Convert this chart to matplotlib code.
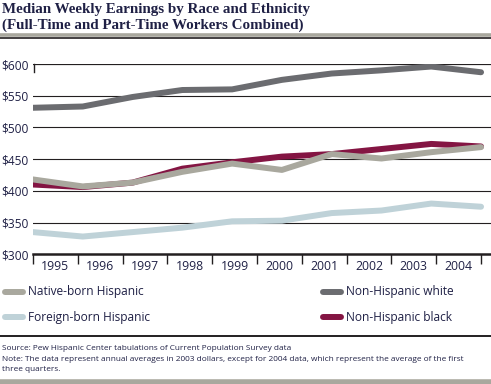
import matplotlib
matplotlib.use("Agg")
import matplotlib.pyplot as plt
from matplotlib.lines import Line2D

years = ["1995", "1996", "1997", "1998", "1999", "2000", "2001", "2002", "2003", "2004"]
native_born = [418, 407, 413, 430, 443, 433, 458, 451, 461, 469]
foreign_born = [335, 328, 335, 342, 352, 353, 365, 369, 380, 375]
nh_white = [531, 533, 548, 559, 560, 575, 585, 590, 596, 587]
nh_black = [410, 406, 413, 435, 445, 454, 458, 466, 474, 470]
y_ticks = [300, 350, 400, 450, 500, 550, 600]
y_labels = ["$300", "$350", "$400", "$450", "$500", "$550", "$600"]

C_NATIVE = "#a9a89e"
C_FOREIGN = "#bfd2d8"
C_WHITE = "#6b6c70"
C_BLACK = "#841543"
TXT = "#1f2045"
LINE = "#231f20"

W, H = 491, 384
fig = plt.figure(figsize=(W / 100, H / 100), dpi=100)

def fx(px):
    return px / W

def fy(py):
    return (H - py) / H

ax = fig.add_axes([fx(33), fy(254.3), 1 - fx(33), fy(64) - fy(254.3)])
n = len(years)
xs = list(range(n))
ax.set_xlim(0, 9.2)
ax.set_ylim(300, 600)

for v in y_ticks[1:]:
    ax.axhline(v, color=LINE, lw=0.8 if v != 600 else 1.6, zorder=1)

ax.plot(xs, nh_white, color=C_WHITE, lw=4.3, zorder=3, solid_capstyle="round", solid_joinstyle="round")
ax.plot(xs, foreign_born, color=C_FOREIGN, lw=4.3, zorder=3, solid_capstyle="round", solid_joinstyle="round")
ax.plot(xs, nh_black, color=C_BLACK, lw=4.3, zorder=3, solid_capstyle="round", solid_joinstyle="round")
ax.plot(xs, native_born, color=C_NATIVE, lw=4.3, zorder=4, solid_capstyle="round", solid_joinstyle="round")

for s in ["top", "right", "left"]:
    ax.spines[s].set_visible(False)
ax.spines["bottom"].set_linewidth(1.8)
ax.spines["bottom"].set_color(LINE)
ax.spines["bottom"].set_zorder(5)

tick_pos = [0.9 * k for k in range(n + 1)]
ax.set_xticks(tick_pos)
ax.set_xticklabels([])
ax.tick_params(axis="x", direction="out", length=7.5, width=1.0, color=LINE)
ax.set_yticks(y_ticks)
ax.set_yticklabels(y_labels, fontsize=8.6, color=TXT, fontfamily="Open Sans")
ax.tick_params(axis="y", length=0, pad=3)

for k, yr in enumerate(years):
    ax.text(0.45 + 0.9 * k, 280, yr, ha="center", va="center", fontsize=8.8,
            color=TXT, fontfamily="Open Sans", clip_on=False)

fig.add_artist(Line2D([fx(33.5), fx(33.5)], [fy(64), fy(72)], color=LINE, lw=1.0))

# Title
fig.text(fx(2), fy(10), "Median Weekly Earnings by Race and Ethnicity", fontsize=10.8,
         fontweight="bold", fontfamily="Liberation Serif", color=TXT, va="center", ha="left")
fig.text(fx(2), fy(25), "(Full-Time and Part-Time Workers Combined)", fontsize=10.8,
         fontweight="bold", fontfamily="Liberation Serif", color=TXT, va="center", ha="left")
fig.add_artist(Line2D([0, 1], [fy(35.2), fy(35.2)], color="#a9a89e", lw=2.6))
fig.add_artist(Line2D([0, 1], [fy(37.8), fy(37.8)], color=LINE, lw=1.2))

# Legend
legend_items = [
    (2, 292, C_NATIVE, "Native-born Hispanic"),
    (2, 317, C_FOREIGN, "Foreign-born Hispanic"),
    (320, 292, C_WHITE, "Non-Hispanic white"),
    (320, 317, C_BLACK, "Non-Hispanic black"),
]
for x0, y0, c, lab in legend_items:
    fig.add_artist(Line2D([fx(x0 + 2.5), fx(x0 + 20.5)], [fy(y0), fy(y0)], color=c, lw=4.3,
                          solid_capstyle="round"))
    fig.text(fx(x0 + 25.5), fy(y0), lab, fontsize=8.6, color=TXT, fontfamily="Open Sans",
             va="center", ha="left")

fig.add_artist(Line2D([0, 1], [fy(335.8), fy(335.8)], color=LINE, lw=1.4))

fig.text(fx(2), fy(348), "Source: Pew Hispanic Center tabulations of Current Population Survey data",
         fontsize=5.95, color=TXT, fontfamily="Open Sans", va="center", ha="left")
fig.text(fx(2), fy(359.5), "Note: The data represent annual averages in 2003 dollars, except for 2004 data, which represent the average of the first",
         fontsize=5.95, color=TXT, fontfamily="Open Sans", va="center", ha="left")
fig.text(fx(2), fy(369.5), "three quarters.",
         fontsize=5.95, color=TXT, fontfamily="Open Sans", va="center", ha="left")

fig.add_artist(Line2D([0, 1], [fy(381.5), fy(381.5)], color="#a9a89e", lw=4.0))

fig.savefig("out.png", dpi=100)
